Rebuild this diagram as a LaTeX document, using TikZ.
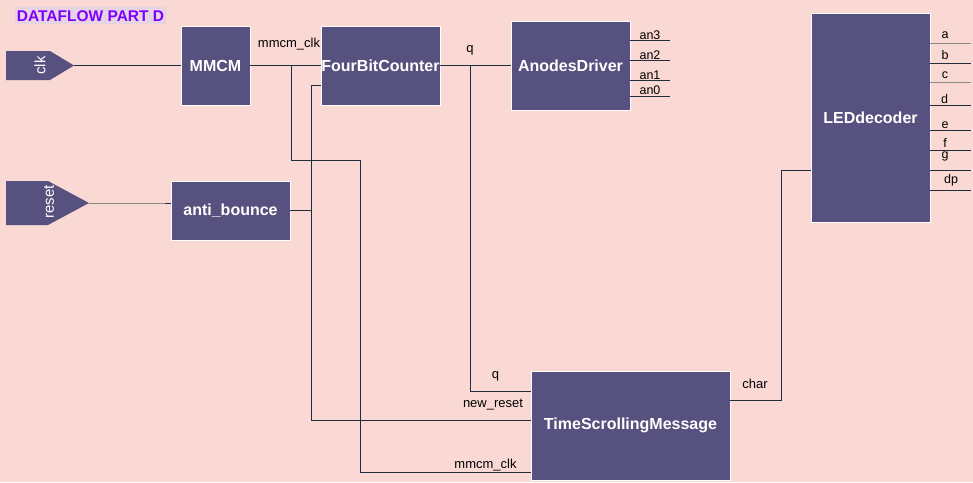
\documentclass[tikz,border=0pt]{standalone}
\usepackage{fontspec}
\setmainfont{Liberation Sans}
\definecolor{bgc}{HTML}{FAD9D5}
\definecolor{boxc}{HTML}{56517E}
\definecolor{wirec}{HTML}{1F2D3D}
\definecolor{greyw}{HTML}{8A8A8A}
\definecolor{titlec}{HTML}{7F00FF}
\definecolor{titlebg}{HTML}{E6D3E3}
\begin{document}
\begin{tikzpicture}[x=1pt,y=-1pt,
  blk/.style={draw=white,line width=0.8pt,fill=boxc,inner sep=0pt,text=white,
    font=\fontsize{16}{18}\selectfont\bfseries},
  wire/.style={draw=wirec,line width=0.9pt},
  gwire/.style={draw=greyw,line width=0.9pt},
  lbl/.style={inner sep=0pt,font=\fontsize{13}{15}\selectfont},
  slbl/.style={inner sep=0pt,font=\fontsize{12.5}{14}\selectfont},
  port/.style={fill=boxc,draw=none}]
\fill[bgc] (0,0) rectangle (973,482);
\useasboundingbox (0,0) rectangle (973,482);
% title
\fill[titlebg] (15,7) rectangle (166,24);
\node[inner sep=0pt,text=titlec,font=\fontsize{15.5}{17}\selectfont\bfseries] (title) at (90.5,15.8) {DATAFLOW PART D};
% ports
\fill[port] (6,51) -- (50,51) -- (74,65.5) -- (50,80) -- (6,80) -- cycle;
\coordinate (clktip) at (74,65.5);
\node[rotate=90,text=white,inner sep=0pt,font=\fontsize{15}{17}\selectfont] (clklbl) at (40,65.5) {clk};
\fill[port] (6,181) -- (48,181) -- (89,203) -- (48,225) -- (6,225) -- cycle;
\coordinate (rsttip) at (89,203);
\node[rotate=90,text=white,inner sep=0pt,font=\fontsize{15}{17}\selectfont] (rstlbl) at (49,202) {reset};
% blocks
\node[blk,minimum width=69pt,minimum height=79pt] (mmcm) at (215.5,65.5) {MMCM};
\node[blk,minimum width=119pt,minimum height=79pt] (fbc) at (380.5,65.5) {FourBitCounter};
\node[blk,minimum width=119pt,minimum height=89pt] (ad) at (570.5,65.5) {AnodesDriver};
\node[blk,minimum width=119pt,minimum height=209pt] (led) at (870.5,117.5) {LEDdecoder};
\node[blk,minimum width=119pt,minimum height=59pt] (ab) at (230.5,210.5) {anti\_bounce};
\node[blk,minimum width=199pt,minimum height=109pt] (tsm) at (630.5,425.5) {TimeScrollingMessage};
% coordinates
\coordinate (j1) at (291,65.5);
\coordinate (j1a) at (291,160);
\coordinate (j1b) at (360,160);
\coordinate (j1c) at (360,472);
\coordinate (tsmclk) at (531,472);
\coordinate (fbcrst) at (321,85);
\coordinate (r1) at (311,85);
\coordinate (r2) at (311,420);
\coordinate (r3) at (311,210);
\coordinate (tsmrst) at (531,420);
\coordinate (q1) at (470,65.5);
\coordinate (q2) at (470,391);
\coordinate (tsmq) at (531,391);
\coordinate (c1) at (811,170);
\coordinate (c2) at (781,170);
\coordinate (c3) at (781,400);
\coordinate (tsmch) at (730,400);
\coordinate (rstmid) at (165,203);
% wires
\draw[wire] (clktip) -- (mmcm.west);
\draw[wire] (mmcm.east) -- (fbc.west);
\draw[wire] (j1) -- (j1a) -- (j1b) -- (j1c) -- (tsmclk);
\draw[wire] (fbcrst) -- (r1) -- (r2) -- (tsmrst);
\draw[gwire] (rsttip) -- (rstmid);
\draw[wire] (rstmid) -- (ab.west |- rsttip);
\draw[wire] (ab.east |- r3) -- (r3);
\draw[wire] (fbc.east) -- (ad.west);
\draw[wire] (q1) -- (q2) -- (tsmq);
\draw[wire] (c1) -- (c2) -- (c3) -- (tsmch);
% anodes outputs
\foreach \y in {40.3,60.3,80.3,96.3}{
  \draw[wire] (630,\y) -- (670,\y);
}
\node[slbl] (an3) at (650,35) {an3};
\node[slbl] (an2) at (650,55) {an2};
\node[slbl] (an1) at (650,75) {an1};
\node[slbl] (an0) at (650,90.5) {an0};
% LED outputs
\draw[gwire] (930,43.7) -- (971,43.7);
\draw[wire] (930,63.3) -- (971,63.3);
\draw[gwire] (930,82.7) -- (971,82.7);
\draw[wire] (930,105.3) -- (971,105.3);
\draw[wire] (930,130.3) -- (971,130.3);
\draw[wire] (930,150.3) -- (971,150.3);
\draw[wire] (930,170.3) -- (971,170.3);
\draw[wire] (930,190.3) -- (971,190.3);
\node[slbl] (la) at (945,35) {a};
\node[slbl] (lb) at (945,55) {b};
\node[slbl] (lc) at (945,75) {c};
\node[slbl] (ld) at (944.5,99) {d};
\node[slbl] (le) at (945,125.5) {e};
\node[slbl] (lf) at (945,143) {f};
\node[slbl] (lg) at (945,156.5) {g};
\node[slbl] (ldp) at (951,180) {dp};
% labels
\node[lbl] (lmclk) at (289,44) {mmcm\_clk};
\node[lbl] (lq) at (470,50) {q};
\node[lbl] (ltq) at (495.5,376) {q};
\node[lbl] (lnr) at (493,405) {new\_reset};
\node[lbl] (ltclk) at (485.5,465) {mmcm\_clk};
\node[lbl] (lch) at (755,384) {char};
\end{tikzpicture}
\end{document}
